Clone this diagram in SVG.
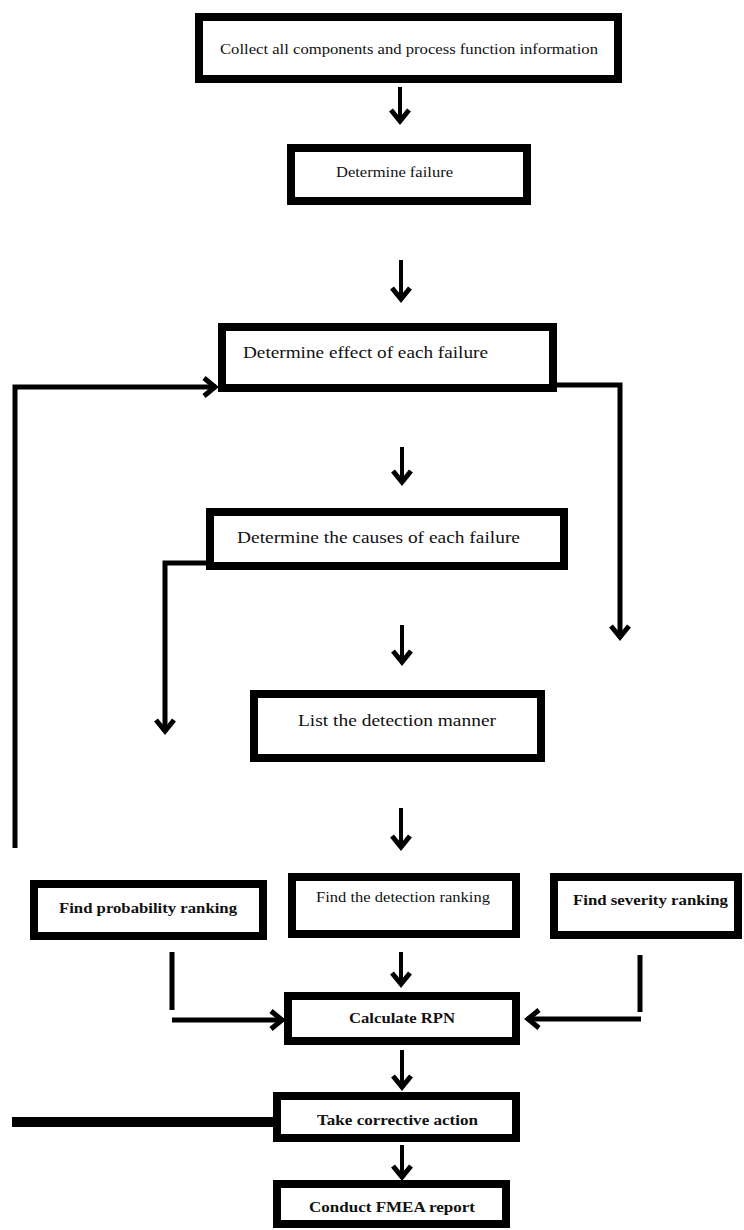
<svg xmlns="http://www.w3.org/2000/svg" width="744" height="1230" viewBox="0 0 744 1230">
<style>
.box{fill:#fff;stroke:#000;stroke-width:8}
.t{font-family:"Liberation Serif","Times New Roman",serif;fill:#111;dominant-baseline:central}
.b{font-weight:bold}
.c{fill:none;stroke:#000;stroke-width:4}
.w{stroke-width:5}
.th{stroke-width:10}
</style>
<defs>
<marker id="ah" markerUnits="userSpaceOnUse" markerWidth="26" markerHeight="26" refX="16" refY="13" orient="auto">
<path d="M4,4 L15,13 L4,22" fill="none" stroke="#000" stroke-width="5" stroke-linejoin="miter"/>
</marker>
</defs>
<rect width="744" height="1230" fill="#fff"/>
<g id="connectors">
<line class="c" x1="400" y1="87" x2="400" y2="122" marker-end="url(#ah)"/>
<line class="c" x1="401" y1="260" x2="401" y2="300" marker-end="url(#ah)"/>
<line class="c" x1="402" y1="447" x2="402" y2="483" marker-end="url(#ah)"/>
<line class="c" x1="402" y1="625" x2="402" y2="663" marker-end="url(#ah)"/>
<line class="c" x1="401" y1="808" x2="401" y2="848" marker-end="url(#ah)"/>
<line class="c" x1="401" y1="952" x2="401" y2="985" marker-end="url(#ah)"/>
<line class="c" x1="402" y1="1050" x2="402" y2="1088" marker-end="url(#ah)"/>
<line class="c" x1="402" y1="1145" x2="402" y2="1178" marker-end="url(#ah)"/>
<polyline class="c w" points="15,848 15,387 216,387" marker-end="url(#ah)"/>
<polyline class="c w" points="557,385 620,385 620,638" marker-end="url(#ah)"/>
<polyline class="c w" points="206,563 165,563 165,732" marker-end="url(#ah)"/>
<line class="c w" x1="172" y1="952" x2="172" y2="1010"/>
<line class="c w" x1="172" y1="1020" x2="283" y2="1020" marker-end="url(#ah)"/>
<line class="c w" x1="640" y1="955" x2="640" y2="1012"/>
<line class="c w" x1="641" y1="1019" x2="527" y2="1019" marker-end="url(#ah)"/>
<line class="c th" x1="12" y1="1122" x2="273" y2="1122"/>
</g>
<g id="n1"><rect class="box" x="199" y="17" width="419" height="62"/><text class="t" x="220" y="49" font-size="14" textLength="378" lengthAdjust="spacingAndGlyphs">Collect all components and process function information</text></g>
<g id="n2"><rect class="box" x="291" y="148" width="236" height="53"/><text class="t" x="336" y="172" font-size="14" textLength="117" lengthAdjust="spacingAndGlyphs">Determine failure</text></g>
<g id="n3"><rect class="box" x="222" y="327" width="331" height="61"/><text class="t" x="243" y="352" font-size="17" textLength="245" lengthAdjust="spacingAndGlyphs">Determine effect of each failure</text></g>
<g id="n4"><rect class="box" x="210" y="512" width="354" height="54"/><text class="t" x="237" y="537" font-size="17" textLength="283" lengthAdjust="spacingAndGlyphs">Determine the causes of each failure</text></g>
<g id="n5"><rect class="box" x="254" y="694" width="287" height="64"/><text class="t" x="298" y="720" font-size="17" textLength="198" lengthAdjust="spacingAndGlyphs">List the detection manner</text></g>
<g id="n6"><rect class="box" x="34" y="884" width="229" height="52"/><text class="t b" x="59" y="908" font-size="14" textLength="178" lengthAdjust="spacingAndGlyphs">Find probability ranking</text></g>
<g id="n7"><rect class="box" x="292" y="877" width="224" height="57"/><text class="t" x="316" y="897" font-size="14" textLength="174" lengthAdjust="spacingAndGlyphs">Find the detection ranking</text></g>
<g id="n8"><rect class="box" x="554" y="877" width="184" height="58"/><text class="t b" x="573" y="900" font-size="14" textLength="155" lengthAdjust="spacingAndGlyphs">Find severity ranking</text></g>
<g id="n9"><rect class="box" x="288" y="996" width="228" height="45"/><text class="t b" x="349" y="1018" font-size="14" textLength="106" lengthAdjust="spacingAndGlyphs">Calculate RPN</text></g>
<g id="n10"><rect class="box" x="277" y="1096" width="239" height="42"/><text class="t b" x="317" y="1120" font-size="14" textLength="161" lengthAdjust="spacingAndGlyphs">Take corrective action</text></g>
<g id="n11"><rect class="box" x="277" y="1184" width="229" height="40"/><text class="t b" x="309" y="1207" font-size="14" textLength="166" lengthAdjust="spacingAndGlyphs">Conduct FMEA report</text></g>
</svg>
